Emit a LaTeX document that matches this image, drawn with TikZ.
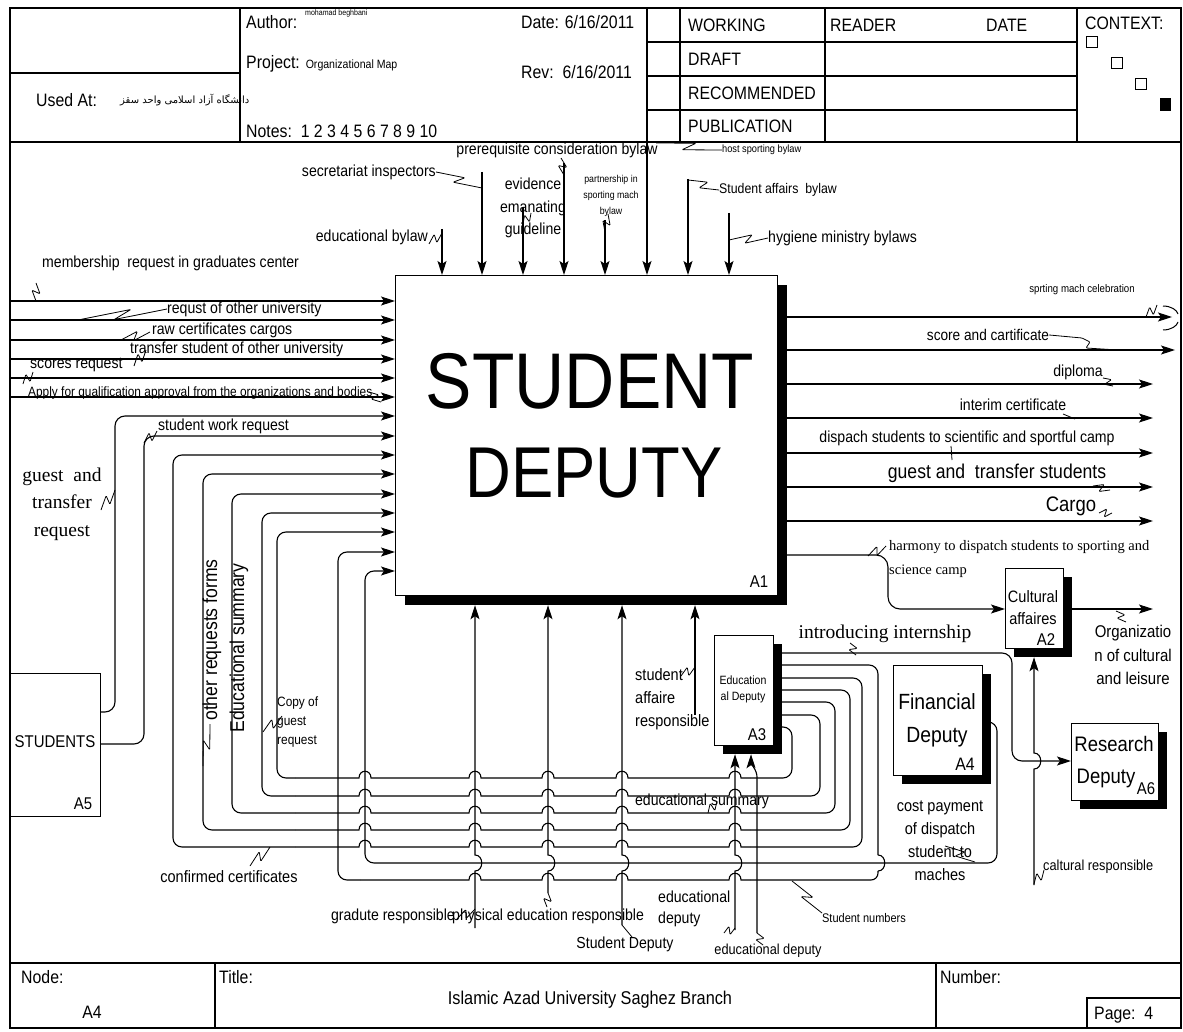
\documentclass[tikz,border=0pt]{standalone}
\usepackage{fontspec}
\setmainfont{Liberation Sans}[FakeStretch=0.88]
\newfontfamily\serifs{Liberation Serif}
\newfontfamily\arabicfont[Script=Arabic]{DejaVu Sans}
\TeXXeTstate=1
\usetikzlibrary{arrows.meta,calc,shadows,backgrounds}
\newcommand\hb[2]{-- (#1+6,#2) .. controls (#1+6,#2-9) and (#1-6,#2-9) .. (#1-6,#2)}
\newcommand\vj[2]{-- (#1,#2+8) .. controls (#1+9,#2+8) and (#1+9,#2-8) .. (#1,#2-8)}
\newcommand\sqg[2]{\draw[sq] (#1) -- ($(#1)!0.6!(#2)!4pt!90:(#2)$) -- ($(#1)!0.4!(#2)!4pt!-90:(#2)$) -- (#2);}
\begin{document}
\begin{tikzpicture}[x=1pt,y=-1pt,
  ln/.style={line width=1.1pt},
  arr/.style={line width=1.1pt,-{Stealth[length=14pt,width=9pt,inset=3pt]}},
  sq/.style={line width=0.8pt,rounded corners=1pt},
  box/.style={draw,line width=1.2pt,fill=white,inner sep=0pt,anchor=north west},
  shad/.style={drop shadow={shadow xshift=#1,shadow yshift=-#1,fill=black,opacity=1}},
  lab/.style={inner sep=0pt,font=\fontsize{16}{19}\selectfont},
  hd/.style={inner sep=0pt,anchor=west,font=\fontsize{18}{21}\selectfont},
  bt/.style={inner sep=0pt},
]
\useasboundingbox (0,0) rectangle (1183,1032);
% ---------- frames ----------
\draw[ln] (10,8) rectangle (1181,1028);
\draw[ln] (10,142) -- (1181,142);
\draw[ln] (10,963) -- (1181,963);
\foreach \x in {240,647,680,825,1077} \draw[ln] (\x,8) -- (\x,142);
\draw[ln] (10,73) -- (240,73);
\foreach \y in {42,76,110} \draw[ln] (647,\y) -- (1077,\y);
\draw[ln] (215,963) -- (215,1028);
\draw[ln] (936,963) -- (936,1028);
\draw[ln] (1087,1028) -- (1087,998) -- (1181,998);
% ---------- header text ----------
\node[hd] (au) at (246,22) {Author:};
\node[inner sep=0,anchor=west,font=\fontsize{8}{9}\selectfont] (aun) at (305,13) {mohamad beghbani};
\node[hd] (dt) at (521,22) {Date: 6/16/2011};
\node[hd] (pj) at (246,64) {Project: {\fontsize{12}{14}\selectfont Organizational Map}};
\node[hd] (rv) at (521,72) {Rev:\ \ 6/16/2011};
\node[hd] (nt) at (246,131) {Notes:\ \ 1 2 3 4 5 6 7 8 9 10};
\node[hd] (ua) at (36,100) {Used At:};
\node[inner sep=0,anchor=west,font=\arabicfont\fontsize{10}{12}\selectfont] (uat) at (120,100) {\beginR دانشگاه آزاد اسلامی واحد سقز\endR};
\node[hd] (wk) at (688,25) {WORKING};
\node[hd] (dr) at (688,59) {DRAFT};
\node[hd] (rc) at (688,93) {RECOMMENDED};
\node[hd] (pb) at (688,126) {PUBLICATION};
\node[hd] (rd) at (830,25) {READER};
\node[hd] (dd) at (986,25) {DATE};
\node[hd] (cx) at (1085,23) {CONTEXT:};
\draw[line width=0.9pt] (1086,36) rectangle (1097,47);
\draw[line width=0.9pt] (1111,57) rectangle (1122,68);
\draw[line width=0.9pt] (1135,78) rectangle (1146,89);
\fill (1160,98) rectangle (1171,111);
% ---------- footer ----------
\node[hd] (fn) at (21,977) {Node:};
\node[hd,anchor=center] (fa) at (92,1012) {A4};
\node[hd] (ft) at (219,977) {Title:};
\node[hd,anchor=center,font=\fontsize{18.5}{21}\selectfont] (fi) at (590,1000) {Islamic Azad University Saghez Branch};
\node[hd] (fnum) at (940,977) {Number:};
\node[hd] (fp) at (1094,1015) {Page:\ \ 4};
% ---------- boxes ----------
\node[box,shad=9pt,minimum width=382pt,minimum height=320pt] (A1) at (395,275) {};
\node[box,shad=8pt,minimum width=58pt,minimum height=80pt] (A2) at (1005,568) {};
\node[box,shad=8pt,minimum width=59pt,minimum height=110pt] (A3) at (714,635) {};
\node[box,shad=8pt,minimum width=89pt,minimum height=110pt] (A4) at (893,665) {};
\node[box,minimum width=90pt,minimum height=143pt] (A5) at (10,673) {};
\node[box,shad=8pt,minimum width=87pt,minimum height=77pt] (A6) at (1071,723) {};
\coordinate (A1sb) at ([yshift=-9pt]A1.south);
\coordinate (A1sr) at ([xshift=9pt]A1.east);
\coordinate (A2sb) at ([yshift=-8pt]A2.south);
\coordinate (A2sr) at ([xshift=8pt]A2.east);
\coordinate (A3sb) at ([yshift=-8pt]A3.south);
% box texts
\node[bt,font=\fontsize{79}{80}\selectfont] (t1) at (590,381) {STUDENT};
\node[bt,font=\fontsize{72}{80}\selectfont] (t2) at (594,473) {DEPUTY};
\node[bt,font=\fontsize{17}{19}\selectfont] (t3) at (759,582) {A1};
\node[bt,font=\fontsize{16.5}{19}\selectfont] (a2a) at (1033,597) {Cultural};
\node[bt,font=\fontsize{16.5}{19}\selectfont] (a2b) at (1033,619) {affaires};
\node[bt,font=\fontsize{17}{19}\selectfont] (a2c) at (1046,640) {A2};
\node[bt,font=\fontsize{12}{14}\selectfont] (a3a) at (743,680) {Education};
\node[bt,font=\fontsize{12}{14}\selectfont] (a3b) at (743,697) {al Deputy};
\node[bt,font=\fontsize{17}{19}\selectfont] (a3c) at (757,735) {A3};
\node[bt,font=\fontsize{22}{24}\selectfont] (a4a) at (937,702) {Financial};
\node[bt,font=\fontsize{22}{24}\selectfont] (a4b) at (937,737) {Deputy};
\node[bt,font=\fontsize{18}{20}\selectfont] (a4c) at (965,764) {A4};
\node[bt,font=\fontsize{17}{19}\selectfont] (a5a) at (55,742) {STUDENTS};
\node[bt,font=\fontsize{17}{19}\selectfont] (a5c) at (83,804) {A5};
\node[bt,font=\fontsize{21}{23}\selectfont] (a6a) at (1114,744) {Research};
\node[bt,font=\fontsize{21}{23}\selectfont] (a6b) at (1106,778) {Deputy};
\node[bt,font=\fontsize{17}{19}\selectfont] (a6c) at (1146,789) {A6};
% ---------- connectors ----------
\begin{scope}[on background layer]
% controls (top)
\draw[arr] (442,229) -- (442,0 |- A1.north);
\draw[arr] (482,172) -- (482,0 |- A1.north);
\draw[arr] (523,207) -- (523,0 |- A1.north);
\draw[arr] (564,163) -- (564,0 |- A1.north);
\draw[arr] (605,220) -- (605,0 |- A1.north);
\draw[arr] (647,142) -- (647,0 |- A1.north);
\draw[arr] (688,179) -- (688,0 |- A1.north);
\draw[arr] (729,213) -- (729,0 |- A1.north);
% inputs from frame
\foreach \y in {301,320,340,359,378,397} \draw[arr] (10,\y) -- (A1.west |- 0,\y);
% from STUDENTS
\draw[arr,rounded corners=10pt] (A5.east |- 0,712) -- (115,712) -- (115,416) -- (A1.west |- 0,416);
\draw[arr,rounded corners=10pt] (A5.east |- 0,744) -- (144,744) -- (144,436) -- (A1.west |- 0,436);
% loops from A3
\foreach \yo/\xt/\yh/\xl/\yi in {727/792/778/277/532,715/820/796/262/513,702/835/813/232/494,690/850/830/203/474,678/862/847/173/455}{
  \draw[ln,rounded corners=9pt] (A3.east |- 0,\yo) -- (\xt,\yo) -- (\xt,\yh) -- (750,\yh);
  \draw[ln] (750,\yh) \hb{735}{\yh} \hb{622}{\yh} \hb{548}{\yh} \hb{475}{\yh} \hb{365}{\yh} -- (295,\yh);
  \draw[arr,rounded corners=9pt] (295,\yh) -- (\xl,\yh) -- (\xl,\yi) -- (A1.west |- 0,\yi);
}
% outer loop from A3
\draw[ln,rounded corners=9pt] (A3.east |- 0,665) -- (878,665) -- (878,855);
\draw[ln] (878,855) .. controls (887,855) and (887,871) .. (878,871);
\draw[ln,rounded corners=7pt] (878,871) -- (878,880) -- (750,880);
\draw[ln] (750,880) \hb{735}{880} \hb{622}{880} \hb{548}{880} \hb{475}{880} -- (360,880);
\draw[arr,rounded corners=9pt] (360,880) -- (338,880) -- (338,552) -- (A1.west |- 0,552);
% from A4
\draw[arr,rounded corners=9pt] (A4.east |- 0,722) -- (997,722) -- (997,863) -- (365,863) -- (365,571) -- (A1.west |- 0,571);
% mechanisms into A1
\draw[arr] (475,928) \vj{475}{863} -- (A1sb -| 475,0);
\draw[arr] (548,893) \vj{548}{863} -- (A1sb -| 548,0);
\draw[arr] (622,925) \vj{622}{863} -- (A1sb -| 622,0);
\draw[arr] (695,715) -- (A1sb -| 695,0);
% mechanisms into A3
\draw[arr] (735,930) \vj{735}{863} -- (A3sb -| 735,0);
\draw[arr,rounded corners=5pt] (757,933) -- (757,772) -- (751,764) -- (A3sb -| 751,0);
% outputs of A1
\foreach \y/\xe in {317/1172,350/1175,384/1153,418/1153,453/1153,487/1153,521/1153} \draw[arr] (A1sr |- 0,\y) -- (\xe,\y);
\draw[arr,rounded corners=12pt] (A1sr |- 0,555) -- (888,555) -- (888,609) -- (A2.west |- 0,609);
\draw[arr] (A2sr |- 0,609) -- (1153,609);
\draw[arr] (1034,885) \vj{1034}{761} -- (A2sb -| 1034,0);
\draw[arr,rounded corners=10pt] (A3.east |- 0,653) -- (1012,653) -- (1012,761) -- (A6.west |- 0,761);
\end{scope}
% tunnel
\draw[line width=1pt] (1163,306) .. controls (1171,306) and (1177,310) .. (1178,314);
\draw[line width=1pt] (1178,322) .. controls (1177,326) and (1171,330) .. (1163,330);
% ---------- labels ----------
\node[lab,anchor=east] (c1) at (428,237) {educational bylaw};
\node[lab,anchor=east] (c2) at (436,172) {secretariat inspectors};
\node[lab,align=center,font=\fontsize{16}{22.5}\selectfont] (c3) at (533,208) {evidence\\emanating\\guideline};
\node[lab] (c4) at (557,150) {prerequisite consideration bylaw};
\node[bt,align=center,font=\fontsize{10}{16}\selectfont] (c5) at (611,196) {partnership in\\sporting mach\\bylaw};
\node[bt,anchor=west,font=\fontsize{10.5}{12}\selectfont] (c6) at (722,150) {host sporting bylaw};
\node[bt,anchor=west,font=\fontsize{14}{16}\selectfont] (c7) at (719,190) {Student affairs\ \ bylaw};
\node[lab,anchor=west] (c8) at (768,238) {hygiene ministry bylaws};
\sqg{429,244}{442,233}
\sqg{c2.east}{482,188}
\sqg{531,213}{523,224}
\sqg{561,158}{564,175}
\sqg{608,214}{605,232}
\sqg{c6.west}{656,143}
\sqg{688,180}{c7.west}
\sqg{729,240}{c8.west}
% inputs
\node[lab,anchor=west] (i1) at (42,263) {membership\ \ request in graduates center};
\node[lab,anchor=west] (i2) at (167,309) {requst of other university};
\node[lab,anchor=west] (i3) at (152,330) {raw certificates cargos};
\node[lab,anchor=west] (i4) at (130,349) {transfer student of other university};
\node[lab,anchor=west] (i5) at (30,365) {scores request};
\node[bt,anchor=west,font=\fontsize{13.5}{15}\selectfont] (i6) at (28,393) {Apply for qualification approval from the organizations and bodies};
\sqg{36,283}{36,301}
\sqg{78,320}{i2.west}
\sqg{121,340}{150,332}
\sqg{146,350}{134,366}
\sqg{23,384}{33,372}
\sqg{369,392}{381,402}
\node[lab,anchor=west] (swr) at (158,426) {student work request};
\sqg{144,443}{157,431}
\node[bt,align=center,font=\serifs\fontsize{19.5}{27.5}\selectfont] (gtr) at (62,504) {guest\ \ and\\transfer\\request};
\sqg{101,510}{115,490}
\node[bt,rotate=90,font=\fontsize{20}{22}\selectfont] (orf) at (212,640) {other requests forms};
\sqg{210,724}{203,766}
\node[bt,rotate=90,font=\fontsize{20}{22}\selectfont] (esm) at (239,648) {Educational summary};
\node[bt,anchor=west,align=left,font=\fontsize{13.5}{19}\selectfont] (cg) at (277,722) {Copy of\\guest\\request};
\sqg{263,732}{282,716}
\node[lab,font=\fontsize{16.5}{19}\selectfont] (cc) at (229,877) {confirmed certificates};
\sqg{250,866}{270,847}
% bottom labels
\node[lab,anchor=east] (gr) at (455,916) {gradute responsible};
\node[lab,anchor=west] (pe) at (452,916) {physical education responsible};
\node[lab] (sd) at (625,944) {Student Deputy};
\node[lab,anchor=west,align=left,font=\fontsize{16}{21}\selectfont] (ed1) at (658,909) {educational\\deputy};
\node[bt,font=\fontsize{14.5}{16}\selectfont] (ed2) at (768,951) {educational deputy};
\node[lab,anchor=west,align=left,font=\fontsize{16.5}{23}\selectfont] (sar) at (635,699) {student\\affaire\\responsible};
\node[lab] (es) at (702,801) {educational summary};
\node[bt,font=\fontsize{12.5}{14}\selectfont] (sn) at (864,918) {Student numbers};
\sqg{457,919}{475,909}
\sqg{547,907}{548,893}
\draw[sq] (622,925) -- (632,937);
\sqg{724,933}{735,928}
\sqg{757,933}{763,945}
\sqg{681,676}{695,667}
\sqg{708,813}{717,801}
\sqg{792,881}{822,913}
% right side labels
\node[bt,font=\fontsize{11}{13}\selectfont] (o1) at (1082,290) {sprting mach celebration};
\sqg{1146,317}{1157,305}
\node[lab,font=\fontsize{15.5}{18}\selectfont] (o2) at (988,335) {score and cartificate};
\draw[sq] (o2.east) -- (1082,338) -- (1090,342) -- (1086,348) -- (1118,350);
\node[lab] (o3) at (1078,372) {diploma};
\sqg{1103,378}{1113,386}
\node[lab] (o4) at (1013,405) {interim certificate};
\draw[sq] (1063,414) -- (1075,419);
\node[lab] (o5) at (967,438) {dispach students to scientific and sportful camp};
\draw[sq] (951,446) -- (952,460);
\node[lab,font=\fontsize{20}{22}\selectfont] (o6) at (997,473) {guest and\ \ transfer students};
\sqg{1093,486}{1110,490}
\node[lab,font=\fontsize{21}{22}\selectfont] (o7) at (1071,506) {Cargo};
\sqg{1099,513}{1112,513}
\node[bt,anchor=west,align=left,font=\serifs\fontsize{14.5}{24}\selectfont] (hm) at (889,559) {harmony to dispatch students to sporting and\\science camp};
\sqg{868,556}{886,546}
\node[bt,font=\serifs\fontsize{19.5}{22}\selectfont] (ii) at (885,634) {introducing internship};
\sqg{850,643}{856,655}
\node[bt,align=center,font=\fontsize{17}{23.5}\selectfont] (org) at (1133,655) {Organizatio\\n of cultural\\and leisure};
\sqg{1116,611}{1126,622}
\node[bt,align=center,font=\fontsize{16.5}{23}\selectfont] (cp) at (940,841) {cost payment\\of dispatch\\student to\\maches};
\sqg{945,846}{975,862}
\node[bt,anchor=west,font=\fontsize{14.5}{16}\selectfont] (cr) at (1043,867) {caltural responsible};
\sqg{1034,884}{1044,870}
\end{tikzpicture}
\end{document}
